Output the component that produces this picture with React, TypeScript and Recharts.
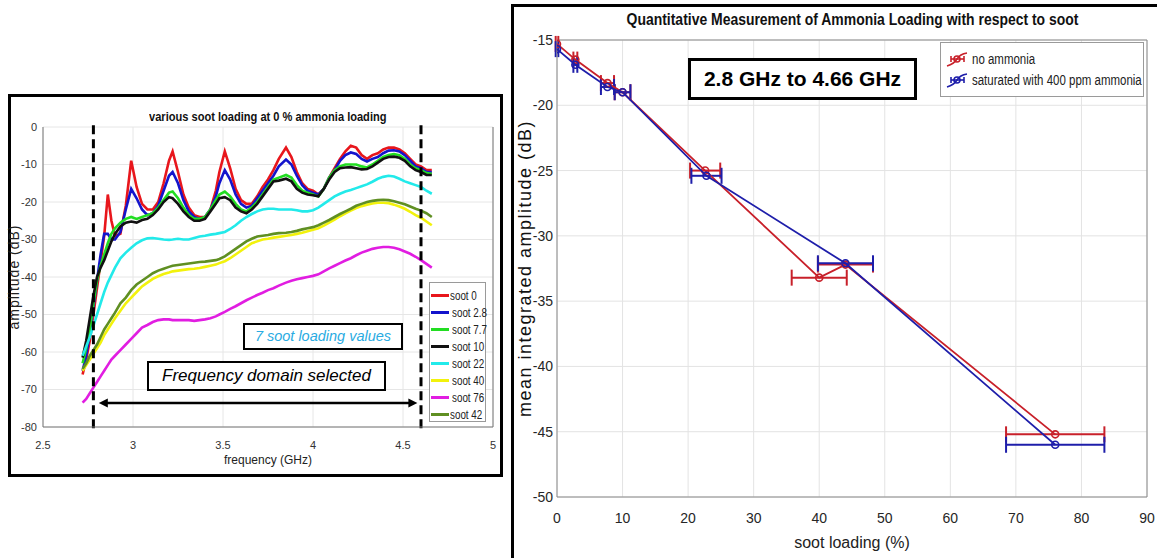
import React from 'react';
import {
  LineChart,
  Line,
  XAxis,
  YAxis,
  CartesianGrid,
  ReferenceLine,
  ScatterChart,
  Scatter,
  ErrorBar
} from 'recharts';

const SANS = "'Liberation Sans', Arial, sans-serif";

// ---- left chart: amplitude vs frequency ----
const FREQ = [
  2.72, 2.74, 2.76, 2.78, 2.8, 2.82, 2.84, 2.86, 2.88, 2.9,
  2.93, 2.96, 2.99, 3.02, 3.05, 3.08, 3.11, 3.14, 3.17, 3.2,
  3.22, 3.25, 3.28, 3.31, 3.34, 3.37, 3.4, 3.43, 3.46, 3.48,
  3.51, 3.54, 3.57, 3.6, 3.63, 3.66, 3.69, 3.72, 3.75, 3.78,
  3.81, 3.85, 3.88, 3.91, 3.94, 3.97, 4.0, 4.03, 4.06, 4.09,
  4.12, 4.15, 4.18, 4.21, 4.24, 4.27, 4.3, 4.33, 4.36, 4.39,
  4.42, 4.45, 4.48, 4.51, 4.54, 4.57, 4.6, 4.63, 4.66
];

const SOOT_0 = [
  -66, -62, -57, -50, -43, -36, -29, -18, -25, -29,
  -28.5, -21, -9, -16, -20.5, -22, -22, -20, -15, -9,
  -6.5, -12, -18, -21.5, -23.5, -24, -24, -22, -17, -12,
  -6.5, -11, -16.5, -19.5, -20.5, -20.5, -18.5, -16, -14, -11.5,
  -8.5, -5.5, -8, -12, -15, -16.5, -17, -18, -16.5, -13.5,
  -11, -8.5, -6.5, -5, -5.5, -7.5, -8.5, -7.5, -7, -6,
  -5.5, -5.5, -6, -7, -8.5, -10, -10.5, -11.5, -11.5
];

const SOOT_2_8 = [
  -65, -61, -55, -48, -41, -34, -28.5, -28.5, -30, -30,
  -28, -22, -16.5, -19, -22, -23.5, -23, -21, -17, -13,
  -12, -15, -19.5, -22.5, -24, -24.5, -24, -22, -18.5, -15,
  -11.5, -14, -18, -20.5, -21.5, -21, -19, -17, -15, -13,
  -10.5, -8.7, -10, -13, -15.5, -17, -17.5, -18, -16.5, -13.5,
  -11.5, -9, -7.5, -6.8, -7.2, -8.5, -9.2, -8.5, -8, -7,
  -6.3, -6.2, -6.5, -7.5, -9, -10.5, -11, -12, -12
];

const SOOT_7_7 = [
  -63, -59, -54, -47, -41, -37, -34, -31, -28.5, -27,
  -25.5, -24.5, -24, -24.5, -24, -23.5, -23, -21.5, -19.5, -17.5,
  -17.2, -19, -21.5, -23.5, -24.5, -24.5, -24, -22, -19.5, -18,
  -17.2, -18.5, -20.5, -22, -22.5, -21.5, -20, -18, -16, -14,
  -13.5, -12.8, -13.5, -15.5, -17, -17.5, -18, -18.5, -16.5, -13.5,
  -11.5, -10.5, -10, -10, -10, -10.5, -10.8, -10, -9, -8,
  -7.5, -7.2, -7.5, -8.5, -10, -11, -11.5, -12.3, -12.5
];

const SOOT_10 = [
  -61.5, -57, -51, -45, -40, -37.5, -35.5, -33, -30.5, -28.5,
  -26.5, -25.5, -25.2, -25.5, -24.8, -24.5, -23.5, -22, -20, -18.7,
  -19, -20.5, -22.5, -24, -25, -25, -24.5, -22.5, -20.5, -19,
  -18.7, -19.5, -21.5, -22.5, -23, -22, -20.5, -18.5, -16.5, -14.5,
  -14.3, -13.8, -14.5, -16.5, -17.5, -18, -18.2, -18.5, -16.5, -14,
  -12, -11, -10.8, -10.7, -11, -11.3, -11.2, -10.5, -9.5, -8.5,
  -8, -7.9, -8.2, -9, -10.5, -11.5, -12, -12.8, -12.8
];

const SOOT_22 = [
  -61, -58.5, -56, -53, -50, -47, -44, -41.5, -39.5, -37.5,
  -35, -33.5, -32.2, -31, -30.2, -29.7, -29.6, -29.8, -30, -30.1,
  -30, -29.8, -30, -30, -29.6, -29.2, -29, -28.7, -28.5, -28.3,
  -28, -27.2, -26.2, -25, -24, -23.2, -22.5, -22, -21.8, -21.8,
  -22, -22, -22, -22.2, -22.5, -22.5, -22.2, -21.5, -20.5, -19.5,
  -18.5, -17.8, -17.2, -16.8, -16.3, -15.8, -15.3, -14.6, -13.8, -13.3,
  -13, -13.2, -13.8, -14.5, -15, -15.5, -16, -17, -17.8
];

const SOOT_40 = [
  -65, -63.5, -62, -60.5, -59, -57.5, -55.5, -54, -52.5, -51,
  -49, -47, -45.5, -44, -42.5, -41.5, -40.5, -39.8, -39.2, -38.8,
  -38.5, -38.3, -38.1, -37.9, -37.8, -37.6, -37.3, -37, -36.7, -36.3,
  -35.8, -35, -34, -33, -32, -31, -30.5, -30, -29.8, -29.5,
  -29.3, -29, -28.8, -28.5, -28.2, -27.8, -27.4, -27, -26.3, -25.5,
  -24.7, -23.8, -23, -22.3, -21.6, -21.1, -20.7, -20.4, -20.2, -20.2,
  -20.3, -20.7, -21.2, -21.8, -22.6, -23.5, -24.2, -25.2, -26.2
];

const SOOT_76 = [
  -73.5, -72.5, -71, -69.5, -68, -66.5, -65, -63.5, -62, -61,
  -59.5, -58, -56.5, -55, -53.5, -52.8, -52, -51.5, -51.3, -51.3,
  -51.5, -51.5, -51.5, -51.5, -51.7, -51.5, -51.3, -51, -50.5, -50,
  -49.3, -48.5, -47.8, -47, -46.2, -45.5, -44.8, -44.2, -43.5, -43,
  -42.3, -41.5, -41, -40.6, -40.3, -40, -39.7, -39.3, -38.5, -37.7,
  -37, -36.3, -35.6, -35, -34.2, -33.5, -33, -32.5, -32.2, -32,
  -32, -32.2, -32.6, -33.2, -33.8, -34.6, -35.5, -36.5, -37.5
];

const SOOT_42 = [
  -64.5, -63, -61, -59.5, -58, -56, -54, -52.5, -51, -49.5,
  -47, -45.5, -43.5, -42, -41, -40, -39, -38.3, -37.8, -37.3,
  -37, -36.8, -36.6, -36.4, -36.2, -36, -35.9, -35.7, -35.5, -35.2,
  -34.5, -33.5, -32.5, -31.5, -30.5, -29.8, -29.2, -29, -28.8, -28.5,
  -28.3, -28.2, -28, -27.7, -27.3, -27, -26.7, -26.2, -25.5, -24.8,
  -24, -23.2, -22.5, -21.8, -21, -20.5, -20, -19.7, -19.5, -19.4,
  -19.5, -19.8, -20.2, -20.6, -21.2, -21.8, -22.3, -23, -24
];

const SOOT_SERIES = [
  { key: 's0', name: 'soot 0', color: '#e8161c', values: SOOT_0 },
  { key: 's28', name: 'soot 2.8', color: '#1414cc', values: SOOT_2_8 },
  { key: 's77', name: 'soot 7.7', color: '#22dd22', values: SOOT_7_7 },
  { key: 's10', name: 'soot 10', color: '#111111', values: SOOT_10 },
  { key: 's22', name: 'soot 22', color: '#22eaea', values: SOOT_22 },
  { key: 's40', name: 'soot 40', color: '#f2f20c', values: SOOT_40 },
  { key: 's76', name: 'soot 76', color: '#e11de1', values: SOOT_76 },
  { key: 's42', name: 'soot 42', color: '#5f8f22', values: SOOT_42 }
];

const FREQ_TICKS = [2.5, 3, 3.5, 4, 4.5, 5];
const AMP_TICKS = [-80, -70, -60, -50, -40, -30, -20, -10, 0];

// ---- right chart: mean integrated amplitude vs soot loading ----
const NO_NH3_SOOT = [0, 2.8, 7.7, 10, 22.6, 40, 44, 76];
const NO_NH3_AMP = [-15.3, -16.5, -18.3, -19.0, -25.0, -33.2, -32.2, -45.2];
const NO_NH3_ERR = [0.2, 0.3, 1.0, 1.2, 2.3, 4.2, 4.2, 7.5];

const NH3_SOOT = [0, 2.8, 7.7, 10, 22.8, 44, 76];
const NH3_AMP = [-15.7, -16.9, -18.6, -19.0, -25.4, -32.1, -46.0];
const NH3_ERR = [0.2, 0.3, 1.0, 1.2, 2.3, 4.2, 7.5];

const SOOT_TICKS = [0, 10, 20, 30, 40, 50, 60, 70, 80, 90];
const MEAN_TICKS = [-50, -45, -40, -35, -30, -25, -20, -15];

const RED = '#c8202a';
const BLUE = '#1e1eaa';

const spectrumData = FREQ.map((f, i) => {
  const row: any = { f };
  SOOT_SERIES.forEach(s => { row[s.key] = s.values[i]; });
  return row;
});

const noNh3Data = NO_NH3_SOOT.map((x, i) => ({ x, y: NO_NH3_AMP[i], xErr: NO_NH3_ERR[i] }));
const nh3Data = NH3_SOOT.map((x, i) => ({ x, y: NH3_AMP[i], xErr: NH3_ERR[i] }));

const ArrowLine = (p: any) => {
  const { x1, y1, x2, y2 } = p;
  const h = 9;
  return (
    <g>
      <line x1={x1 + h - 1} y1={y1} x2={x2 - h + 1} y2={y2} stroke="#000" strokeWidth={2.5} />
      <path d={`M${x1},${y1} L${x1 + h},${y1 - 4.5} L${x1 + h},${y1 + 4.5} Z`} fill="#000" />
      <path d={`M${x2},${y2} L${x2 - h},${y2 - 4.5} L${x2 - h},${y2 + 4.5} Z`} fill="#000" />
    </g>
  );
};

const ring = (color: string) => (p: any) => (
  <circle cx={p.cx} cy={p.cy} r={3.5} fill="none" stroke={color} strokeWidth={1.6} />
);

const LegendIcon = ({ color }: { color: string }) => (
  <svg width={24} height={18} style={{ display: 'block' }}>
    <path d="M2 16 Q9 14 12 9 T22 3" fill="none" stroke={color} strokeWidth={1.6} />
    <line x1={6} y1={9} x2={19} y2={9} stroke={color} strokeWidth={1.6} />
    <line x1={6} y1={6} x2={6} y2={12} stroke={color} strokeWidth={1.6} />
    <line x1={19} y1={6} x2={19} y2={12} stroke={color} strokeWidth={1.6} />
    <circle cx={12} cy={9} r={3} fill="none" stroke={color} strokeWidth={1.6} />
  </svg>
);

const abs = (left: number, top: number, extra: React.CSSProperties = {}): React.CSSProperties => ({
  position: 'absolute',
  left,
  top,
  ...extra
});

// condensed look: no narrow face installed, so squeeze Liberation Sans
const narrow = (size: number, extra: React.CSSProperties = {}): React.CSSProperties => ({
  display: 'inline-block',
  fontFamily: SANS,
  fontSize: size,
  whiteSpace: 'nowrap',
  transform: 'scaleX(0.82)',
  ...extra
});

export default function App() {
  return (
    <div style={{ position: 'absolute', left: 0, top: 0, width: 1157, height: 558, background: '#fff', overflow: 'hidden' }}>
      {/* left panel frame */}
      <div style={abs(8, 94, { width: 489, height: 377, border: '3px solid #000' })} />

      <div style={abs(0, 0)}>
        <LineChart
          width={510}
          height={480}
          data={spectrumData}
          margin={{ top: 127, right: 17, bottom: 23, left: 0 }}
        >
          <CartesianGrid stroke="#e6e6e6" strokeWidth={1} />
          <XAxis
            type="number"
            dataKey="f"
            domain={[2.5, 5]}
            ticks={FREQ_TICKS}
            allowDataOverflow
            height={30}
            tickLine={false}
            tickMargin={8}
            axisLine={{ stroke: '#777' }}
            tick={{ fill: '#333', fontSize: 11, fontFamily: SANS }}
            label={{ value: 'frequency (GHz)', position: 'bottom', offset: -2, fill: '#222', fontSize: 12, fontFamily: SANS }}
          />
          <YAxis
            type="number"
            domain={[-80, 0]}
            ticks={AMP_TICKS}
            allowDataOverflow
            width={43}
            tickLine={false}
            tickSize={4}
            axisLine={{ stroke: '#777' }}
            tick={{ fill: '#333', fontSize: 11, fontFamily: SANS }}
            label={{
              value: 'amplitude (dB)',
              angle: -90,
              position: 'insideLeft',
              offset: 14,
              fill: '#222',
              fontSize: 14,
              fontFamily: SANS,
              style: { textAnchor: 'middle', letterSpacing: 1 }
            }}
          />
          <ReferenceLine x={5} stroke="#777" />
          {SOOT_SERIES.map(s => (
            <Line
              key={s.key}
              type="linear"
              dataKey={s.key}
              name={s.name}
              stroke={s.color}
              strokeWidth={2.6}
              dot={false}
              isAnimationActive={false}
            />
          ))}
          <ReferenceLine
            segment={[{ x: 2.78, y: 0.5 }, { x: 2.78, y: -81.5 }]}
            ifOverflow="visible"
            stroke="#000"
            strokeWidth={3}
            strokeDasharray="9 5"
          />
          <ReferenceLine
            segment={[{ x: 4.6, y: 0.5 }, { x: 4.6, y: -81.5 }]}
            ifOverflow="visible"
            stroke="#000"
            strokeWidth={3}
            strokeDasharray="9 5"
          />
          <ReferenceLine
            segment={[{ x: 2.81, y: -73.6 }, { x: 4.58, y: -73.6 }]}
            ifOverflow="visible"
            shape={ArrowLine}
          />
        </LineChart>
      </div>

      {/* left title */}
      <div style={abs(43, 107, { width: 450, textAlign: 'center', color: '#111' })}>
        <span style={narrow(13.5, { fontWeight: 'bold' })}>various soot loading at 0 % ammonia loading</span>
      </div>

      {/* annotation boxes */}
      <div style={abs(243, 323, {
        width: 156, height: 23, border: '2.5px solid #000', background: '#fff',
        fontFamily: SANS, fontStyle: 'italic', fontSize: 14.5, color: '#29abe2',
        textAlign: 'center', lineHeight: '23px', whiteSpace: 'nowrap'
      })}>
        7 soot loading values
      </div>
      <div style={abs(147, 361, {
        width: 235, height: 26, border: '2.5px solid #000', background: '#fff',
        fontFamily: SANS, fontStyle: 'italic', fontSize: 17, color: '#000',
        textAlign: 'center', lineHeight: '26px', whiteSpace: 'nowrap'
      })}>
        Frequency domain selected
      </div>

      {/* left legend */}
      <div style={abs(429, 282, { width: 55, height: 138, border: '1px solid #9a9a9a', background: '#fff' })}>
        {SOOT_SERIES.map((s, i) => (
          <div key={s.key} style={abs(1, 4 + i * 17, { display: 'flex', alignItems: 'center', height: 17 })}>
            <div style={{ width: 18, height: 3, background: s.color }} />
            <span style={narrow(12, { marginLeft: i === 0 || i === 7 ? 1 : 3, color: '#222', transformOrigin: 'left center' })}>
              {s.name}
            </span>
          </div>
        ))}
      </div>

      {/* right panel frame */}
      <div style={abs(511, 4, { width: 660, height: 570, borderLeft: '3px solid #000', borderTop: '3px solid #000' })} />

      <div style={abs(512, 5)}>
        <ScatterChart width={645} height={553} margin={{ top: 35, right: 10, bottom: 31, left: 0 }}>
          <CartesianGrid stroke="#e3e3e3" strokeWidth={1} />
          <XAxis
            type="number"
            dataKey="x"
            domain={[0, 90]}
            ticks={SOOT_TICKS}
            allowDataOverflow
            height={30}
            tickLine={false}
            tickMargin={10}
            axisLine={{ stroke: '#8a8a8a' }}
            tick={{ fill: '#262626', fontSize: 14, fontFamily: SANS }}
            label={{ value: 'soot loading (%)', position: 'bottom', offset: 10, fill: '#222', fontSize: 16, fontFamily: SANS }}
          />
          <YAxis
            type="number"
            dataKey="y"
            domain={[-50, -15]}
            ticks={MEAN_TICKS}
            allowDataOverflow
            width={45}
            tickLine={false}
            tickSize={1}
            tickMargin={3}
            axisLine={{ stroke: '#8a8a8a' }}
            tick={{ fill: '#262626', fontSize: 14, fontFamily: SANS }}
            label={{
              value: 'mean integrated amplitude (dB)',
              angle: -90,
              position: 'insideLeft',
              offset: 13,
              fill: '#111',
              fontSize: 18,
              fontFamily: SANS,
              style: { textAnchor: 'middle', letterSpacing: 1.5 }
            }}
          />
          <ReferenceLine x={90} stroke="#8a8a8a" />
          <ReferenceLine y={-15} stroke="#8a8a8a" />
          <Scatter
            name="no ammonia"
            data={noNh3Data}
            line={{ stroke: RED, strokeWidth: 1.8 }}
            lineJointType="linear"
            shape={ring(RED)}
            isAnimationActive={false}
          >
            <ErrorBar dataKey="xErr" direction="x" width={8} stroke={RED} strokeWidth={2} />
          </Scatter>
          <Scatter
            name="saturated with 400 ppm ammonia"
            data={nh3Data}
            line={{ stroke: BLUE, strokeWidth: 1.8 }}
            lineJointType="linear"
            shape={ring(BLUE)}
            isAnimationActive={false}
          >
            <ErrorBar dataKey="xErr" direction="x" width={8} stroke={BLUE} strokeWidth={2} />
          </Scatter>
        </ScatterChart>
      </div>

      {/* right title */}
      <div style={abs(557, 10, { width: 590, textAlign: 'center', color: '#111' })}>
        <span style={narrow(17, { fontWeight: 'bold' })}>Quantitative Measurement of Ammonia Loading with respect to soot</span>
      </div>

      {/* frequency range box */}
      <div style={abs(688, 58, {
        width: 223, height: 36, border: '3px solid #000', background: '#fff',
        fontFamily: SANS, fontWeight: 'bold', fontSize: 21, color: '#000',
        textAlign: 'center', lineHeight: '36px', whiteSpace: 'nowrap'
      })}>
        2.8 GHz to 4.66 GHz
      </div>

      {/* right legend */}
      <div style={abs(940, 42, { width: 202, height: 53, border: '1px solid #9a9a9a', background: '#fff' })}>
        <div style={abs(4, 7, { display: 'flex', alignItems: 'center' })}>
          <LegendIcon color={RED} />
          <span style={narrow(14, { marginLeft: 3, color: '#222', transformOrigin: 'left center' })}>no ammonia</span>
        </div>
        <div style={abs(4, 28, { display: 'flex', alignItems: 'center' })}>
          <LegendIcon color={BLUE} />
          <span style={narrow(14, { marginLeft: 3, color: '#222', transformOrigin: 'left center' })}>saturated with 400 ppm ammonia</span>
        </div>
      </div>
    </div>
  );
}
